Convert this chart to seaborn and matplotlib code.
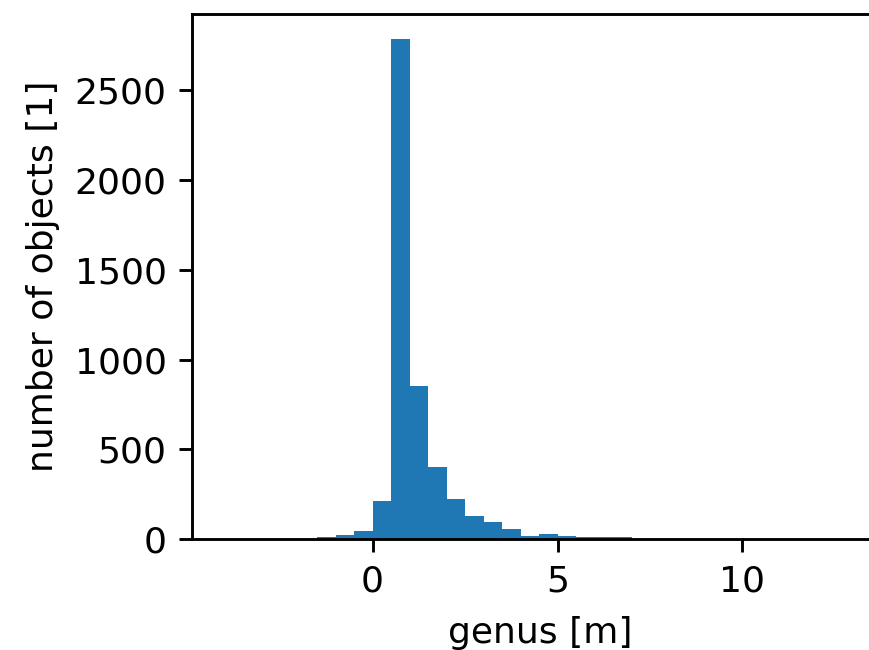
import numpy as np
import pandas as pd
import matplotlib
matplotlib.use("Agg")
import matplotlib.pyplot as plt
import seaborn as sns

# histogram: left edge of each 0.5 m bin and its count
bin_left = [-1.5, -1.0, -0.5, 0.0, 0.5, 1.0, 1.5, 2.0, 2.5, 3.0,
            3.5, 4.0, 4.5, 5.0, 5.5, 6.0, 6.5]
counts = [10, 25, 45, 213, 2786, 854, 403, 223, 130, 95,
          56, 18, 26, 15, 11, 10, 10]
bin_width = 0.5

df = pd.DataFrame({
    'genus': np.array(bin_left) + bin_width / 2,
    'count': counts,
})

fig = plt.figure(figsize=(869 / 260, 650 / 260), dpi=260)
# right spine falls just outside the saved image, as in the original
ax = fig.add_axes([192 / 869, 111 / 650, 697 / 869, 525 / 650])

sns.histplot(
    data=df, x='genus', weights='count',
    binwidth=bin_width, binrange=(bin_left[0], bin_left[-1] + bin_width),
    color='#1f77b4', alpha=1, linewidth=0, ax=ax,
)

ax.set_xlim(-4.88, 13.96)
ax.set_xticks([0, 5, 10])
ax.set_yticks([0, 500, 1000, 1500, 2000, 2500])
ax.set_xlabel('genus [m]', labelpad=5)
ax.set_ylabel('number of objects [1]')

fig.savefig('out.png', dpi=260)
